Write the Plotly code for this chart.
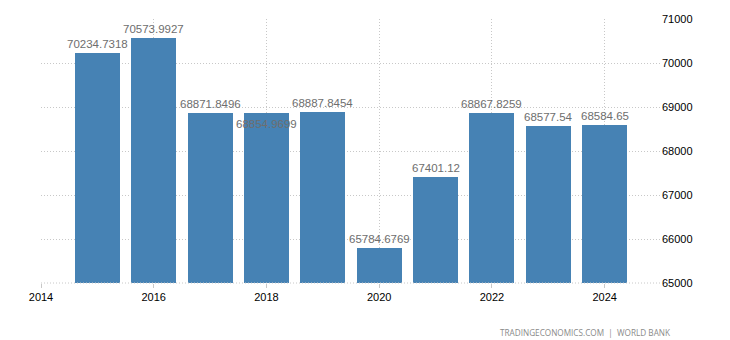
import plotly.graph_objects as go

years = [2015, 2016, 2017, 2018, 2019, 2020, 2021, 2022, 2023, 2024]
values = [70234.7318, 70573.9927, 68871.8496, 68854.9699, 68887.8454,
          65784.6769, 67401.12, 68867.8259, 68577.54, 68584.65]
labels = ["70234.7318", "70573.9927", "68871.8496", "68854.9699", "68887.8454",
          "65784.6769", "67401.12", "68867.8259", "68577.54", "68584.65"]
y_ticks = [65000, 66000, 67000, 68000, 69000, 70000, 71000]
x_ticks = [2014, 2016, 2018, 2020, 2022, 2024]

# labels that collide with a neighbour are tucked inside the bar top
inside = {2018}

GRID = "#c8c8c8"
DOTS = "1px,2px"

fig = go.Figure()
fig.add_trace(go.Bar(
    x=years,
    y=[v - 65000 for v in values],
    base=65000,
    width=0.8,
    marker=dict(color="#4682b4", line=dict(width=0)),
    hoverinfo="skip",
))

for yr, v, t in zip(years, values, labels):
    fig.add_annotation(
        x=yr, y=v, text=t, showarrow=False,
        yanchor="top" if yr in inside else "bottom",
        yshift=-3 if yr in inside else 1,
        font=dict(family="Liberation Sans, Arial", size=11.5, color="#6e6e6e"),
    )

fig.add_annotation(
    xref="paper", yref="paper", x=1.02, y=-0.16, xanchor="right", yanchor="top",
    text="TRADINGECONOMICS.COM  |  WORLD BANK", showarrow=False,
    font=dict(family="Open Sans, Liberation Sans", size=8.2, color="#8a8a8a"),
)

# dotted baseline along the bottom of the plot area
fig.add_shape(type="line", xref="paper", yref="paper", x0=0, x1=1, y0=0, y1=0,
              line=dict(color=GRID, width=1, dash=DOTS), layer="above")

fig.update_layout(
    width=730, height=340,
    margin=dict(l=41, r=69, t=19, b=57),
    paper_bgcolor="white", plot_bgcolor="white",
    showlegend=False, bargap=0,
    font=dict(family="Liberation Sans, Arial", size=11, color="#000000"),
    xaxis=dict(
        range=[2014, 2025], tickvals=x_ticks, ticktext=[str(x) for x in x_ticks],
        showgrid=True, gridcolor=GRID, griddash=DOTS, gridwidth=1,
        zeroline=False, showline=False,
        ticks="outside", ticklen=4, tickcolor=GRID,
        tickfont=dict(size=11, color="#000000"),
    ),
    yaxis=dict(
        range=[65000, 71000], tickvals=y_ticks, ticktext=[str(v) for v in y_ticks],
        side="right", showgrid=True, gridcolor=GRID, griddash=DOTS, gridwidth=1,
        zeroline=False, showline=False, ticks="",
        tickfont=dict(size=11, color="#000000"),
    ),
)

fig.write_html("out.html")
